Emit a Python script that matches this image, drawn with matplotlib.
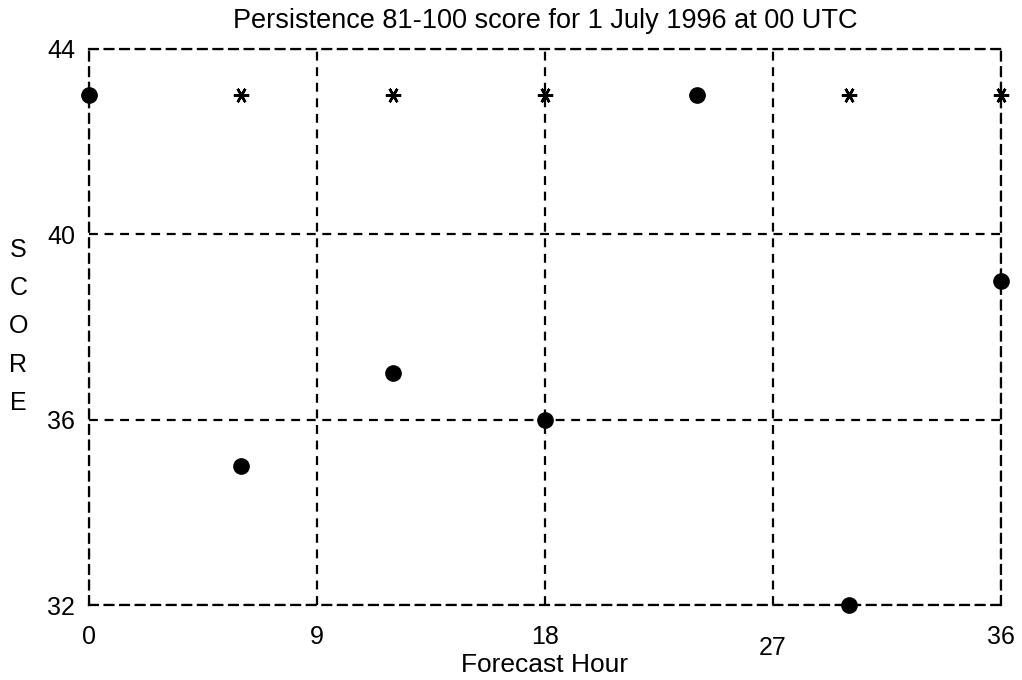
import matplotlib
matplotlib.use('Agg')
import matplotlib.pyplot as plt
import matplotlib.transforms as mtransforms

# data
hours = [0, 6, 12, 18, 24, 30, 36]
score = [43, 35, 37, 36, 43, 32, 39]
persistence = [43, 43, 43, 43, 43, 43, 43]
x_ticks = [0, 9, 18, 27, 36]
y_ticks = [32, 36, 40, 44]


def main():
    plt.rcParams['font.family'] = ['Liberation Sans', 'DejaVu Sans']

    fig = plt.figure(figsize=(10.22, 6.8), dpi=100)
    ax = fig.add_axes([0.087, 0.110, 0.8925, 0.818])

    ax.plot(hours, persistence, linestyle='none', marker=(6, 2, 90),
            markersize=11, markeredgewidth=1.8, color='black', clip_on=False, zorder=3)
    ax.plot(hours, score, linestyle='none', marker='o', markersize=11,
            color='black', clip_on=False, zorder=4)

    ax.set_xlim(0, 36)
    ax.set_ylim(32, 44)
    ax.set_xticks(x_ticks)
    ax.set_yticks(y_ticks)
    ax.tick_params(axis='x', length=0, labelsize=18, pad=14)
    ax.tick_params(axis='y', length=0, labelsize=18, pad=10)
    ax.grid(True, linestyle=(0, (4, 3)), color='black', linewidth=1.6)
    for sp in ax.spines.values():
        sp.set_linestyle((0, (4, 3)))
        sp.set_linewidth(1.6)

    # the "27" label sits a bit lower in the original
    lbl = ax.get_xticklabels()[3]
    lbl.set_transform(lbl.get_transform() + mtransforms.ScaledTranslation(0, -8 / 72, fig.dpi_scale_trans))

    ax.set_title('Persistence 81-100 score for 1 July 1996 at 00 UTC', fontsize=19.5, pad=15)
    ax.set_xlabel('Forecast Hour', fontsize=19, labelpad=-5)
    fig.text(0.018, 0.52, 'S\nC\nO\nR\nE', fontsize=18, ha='center', va='center', linespacing=1.75)

    fig.savefig('out.png', dpi=100)


if __name__ == '__main__':
    main()
